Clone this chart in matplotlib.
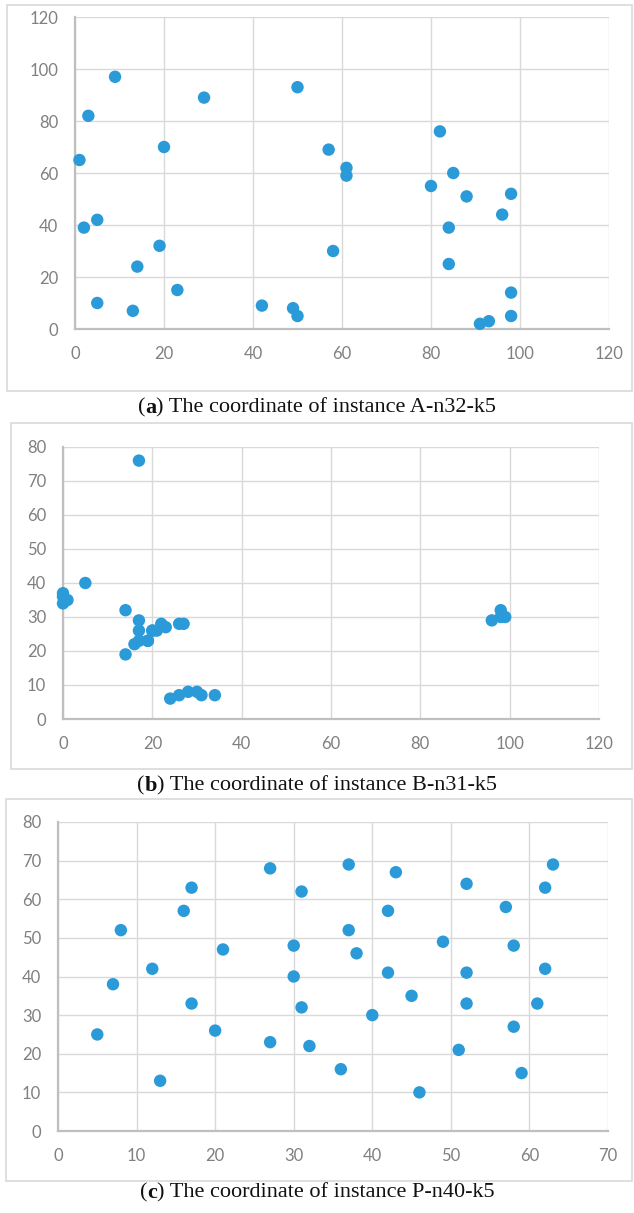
import matplotlib
matplotlib.use("Agg")
import matplotlib.pyplot as plt
from matplotlib.patches import Rectangle

# ---------- data ----------
# (a) A-n32-k5
a_x = [82, 96, 50, 49, 13, 29, 58, 84, 14, 2, 3, 5, 98, 84, 61, 1,
       88, 91, 19, 93, 50, 98, 5, 42, 61, 9, 80, 57, 23, 20, 85, 98]
a_y = [76, 44, 5, 8, 7, 89, 30, 39, 24, 39, 82, 10, 52, 25, 59, 65,
       51, 2, 32, 3, 93, 14, 42, 9, 62, 97, 55, 69, 15, 70, 60, 5]

# (b) B-n31-k5
b_x = [17, 24, 96, 14, 14, 0, 16, 20, 22, 17, 98, 30, 23, 19, 34, 31,
       0, 19, 0, 26, 98, 5, 17, 21, 28, 1, 27, 99, 26, 17, 20]
b_y = [76, 6, 29, 19, 32, 34, 22, 26, 28, 23, 30, 8, 27, 23, 7, 7,
       37, 23, 36, 7, 32, 40, 26, 26, 8, 35, 28, 30, 28, 29, 26]

# (c) P-n40-k5
c_x = [30, 37, 49, 52, 20, 40, 21, 17, 31, 52, 51, 42, 31, 5, 12, 36,
       52, 27, 17, 13, 57, 62, 42, 16, 8, 7, 27, 30, 43, 58, 58, 37,
       38, 46, 61, 62, 63, 32, 45, 59]
c_y = [40, 52, 49, 64, 26, 30, 47, 63, 62, 33, 21, 41, 32, 25, 42, 16,
       41, 23, 33, 13, 58, 42, 57, 57, 52, 38, 68, 48, 67, 48, 27, 69,
       46, 10, 33, 63, 69, 22, 35, 15]

captions = [("a", "A-n32-k5"), ("b", "B-n31-k5"), ("c", "P-n40-k5")]

# ---------- layout (pixels of a 634 x 1213 figure) ----------
W, H = 634, 1213
DOT = "#2a9ad8"
TICK = "#808080"

plt.rcParams["font.family"] = ["Lato", "DejaVu Sans"]

fig = plt.figure(figsize=(W / 100, H / 100), dpi=100)


def px_box(x0, y0, x1, y1):
    return [x0 / W, 1 - y1 / H, (x1 - x0) / W, (y1 - y0) / H]


panels = [
    dict(x=a_x, y=a_y, ax_px=(75, 17, 609, 329), box=(7, 5, 632, 391),
         xlim=120, xstep=20, ylim=120, ystep=20, cap_y=408),
    dict(x=b_x, y=b_y, ax_px=(63, 447, 599, 719), box=(11, 423, 632, 769),
         xlim=120, xstep=20, ylim=80, ystep=10, cap_y=786),
    dict(x=c_x, y=c_y, ax_px=(58, 822, 608, 1131), box=(6, 799, 632, 1181),
         xlim=70, xstep=10, ylim=80, ystep=10, cap_y=1193),
]

for p, (letter, name) in zip(panels, captions):
    # chart-area border like an Excel chart
    bx0, by0, bx1, by1 = p["box"]
    fig.patches.append(Rectangle((bx0 / W, 1 - by1 / H), (bx1 - bx0) / W,
                                 (by1 - by0) / H, transform=fig.transFigure,
                                 fill=False, edgecolor="#d9d9d9", lw=1.2))

    ax = fig.add_axes(px_box(*p["ax_px"]))
    ax.scatter(p["x"], p["y"], s=80, color=DOT, edgecolors="none", zorder=3,
               clip_on=False)
    ax.set_xlim(0, p["xlim"])
    ax.set_ylim(0, p["ylim"])
    ax.set_xticks(range(0, p["xlim"] + 1, p["xstep"]))
    ax.set_yticks(range(0, p["ylim"] + 1, p["ystep"]))
    ax.grid(True, color="#d9d9d9", lw=1.0, zorder=0)
    ax.set_axisbelow(True)
    for side in ("top", "right"):
        ax.spines[side].set_visible(False)
    for side in ("left", "bottom"):
        ax.spines[side].set_color("#bfbfbf")
        ax.spines[side].set_linewidth(1.6)
    ax.tick_params(length=0, labelsize=12, labelcolor=TICK)
    ax.tick_params(axis="x", pad=12)
    ax.tick_params(axis="y", pad=12)

    # caption: "(" bold letter ") The coordinate of instance ..."
    parts = [("(", "normal"), (letter, "bold"),
             (") The coordinate of instance " + name, "normal")]
    fig.canvas.draw()
    r = fig.canvas.get_renderer()
    texts = []
    widths = []
    for s, wgt in parts:
        t = fig.text(0, 0, s, fontsize=16, fontweight=wgt,
                     family=["Liberation Serif", "DejaVu Serif"],
                     va="center", ha="left", color="#111111")
        widths.append(t.get_window_extent(r).width)
        texts.append(t)
    total = sum(widths)
    x = (W / 2 - total / 2)
    for t, w in zip(texts, widths):
        t.set_position((x / W, 1 - p["cap_y"] / H))
        x += w

fig.savefig("out.png", dpi=100, facecolor="white")
